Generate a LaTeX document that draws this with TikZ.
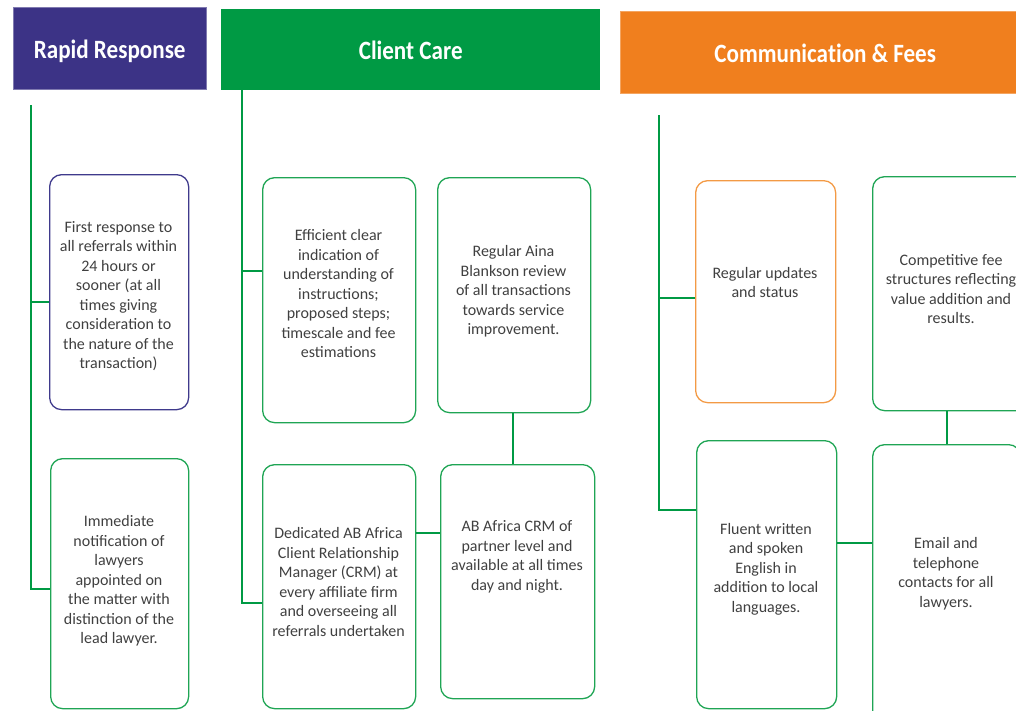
\documentclass[tikz,border=0pt]{standalone}
\usepackage{fontspec}
\setmainfont{Carlito}
\newfontfamily\headfont{Carlito}[FakeStretch=0.875, Ligatures=NoCommon, RawFeature={-calt;-clig}]
\usetikzlibrary{calc}

\definecolor{rrpurple}{HTML}{3C3386}
\definecolor{ccgreen}{HTML}{009A44}
\definecolor{cforange}{HTML}{F07F1E}
\definecolor{boxgreen}{HTML}{1FA554}
\definecolor{boxorange}{HTML}{F39A45}
\definecolor{boxpurple}{HTML}{3F3A8C}
\definecolor{notegray}{HTML}{404040}

\begin{document}
\begin{tikzpicture}[x=1pt, y=-1pt,
	head/.style={anchor=north west, inner sep=0pt, text=white, text height=20pt, text depth=0pt, font=\headfont\fontsize{26.4}{30}\selectfont\bfseries},
	card/.style={draw=boxgreen, line width=1.3pt, rounded corners=12pt, anchor=north west, inner sep=0pt},
	note/.style={align=center, text=notegray, font=\fontsize{16}{19.5}\selectfont},
	link/.style={draw=ccgreen, line width=2pt}]
	\useasboundingbox (0,0) rectangle (1016,710);
	\clip (0,0) rectangle (1016,710);

	% column headers
	\node[head, fill=rrpurple, draw=rrpurple!65!white, minimum width=193pt, minimum height=82pt] (rapid) at (13,7) {Rapid Response};
	\node[head, fill=ccgreen, minimum width=379pt, minimum height=81pt] (care) at (221,9) {Client Care};
	\node[head, fill=cforange, draw=cforange!70!white, minimum width=410pt, minimum height=82pt] (comm) at (620,11) {Communica\kern0pt tion \& Fees};

	% boxes
	\node[card, draw=boxpurple, minimum width=139pt, minimum height=235pt] (resp) at (49,174) {};
	\node[card, minimum width=138pt, minimum height=250pt] (notify) at (50,458) {};
	\node[card, minimum width=153pt, minimum height=245pt] (efficient) at (262,177) {};
	\node[card, minimum width=153pt, minimum height=235pt] (review) at (437,177) {};
	\node[card, minimum width=153pt, minimum height=244pt] (dedicated) at (262,464) {};
	\node[card, minimum width=154pt, minimum height=234pt] (crm) at (440,464) {};
	\node[card, draw=boxorange, minimum width=140pt, minimum height=222pt] (updates) at (695,180) {};
	\node[card, minimum width=158pt, minimum height=234pt] (fees) at (872,176) {};
	\node[card, minimum width=140pt, minimum height=268pt] (fluent) at (696,440) {};
	\node[card, minimum width=148pt, minimum height=280pt] (email) at (872,444) {};

	% texts
	\node[note] (resp-text) at (118.5,296) {First response to\\all referrals within\\24 hours or\\sooner (at all\\times giving\\consideration to\\the nature of the\\transaction)};
	\node[note] (notify-text) at (119,581) {Immediate\\notification of\\lawyers\\appointed on\\the matter with\\distinction of the\\lead lawyer.};
	\node[note] (efficient-text) at (338.5,293.5) {Efficient clear\\indication of\\understanding of\\instructions;\\proposed steps;\\timescale and fee\\estimations};
	\node[note] (review-text) at (513.5,291.5) {Regular Aina\\Blankson review\\of all transactions\\towards service\\improvement.};
	\node[note] (dedicated-text) at (338.5,582) {Dedicated AB Africa\\Client Relationship\\Manager (CRM) at\\every affiliate firm\\and overseeing all\\referrals undertaken};
	\node[note] (crm-text) at (517,557) {AB Africa CRM of\\partner level and\\available at all times\\day and night.};
	\node[note] (updates-text) at (765,282.5) {Regular updates\\and status};
	\node[note] (fees-text) at (951,289) {Competitive fee\\structures reflecting\\value addition and\\results.};
	\node[note] (fluent-text) at (766,569) {Fluent written\\and spoken\\English in\\addition to local\\languages.};
	\node[note] (email-text) at (946,573.5) {Email and\\telephone\\contacts for all\\lawyers.};

	% Rapid Response column
	\coordinate (spine1) at (31,105);
	\coordinate (resp-in) at ([yshift=-10pt]resp.west);
	\draw[link] (spine1) |- ([yshift=-5pt]notify.west);
	\draw[link] (spine1 |- resp-in) -- (resp-in);

	% Client Care column
	\coordinate (spine2) at ([xshift=21pt]care.south west);
	\coordinate (eff-in) at ([yshift=29.5pt]efficient.west);
	\coordinate (crm-in) at ([yshift=54pt]dedicated.east);
	\draw[link] (spine2) |- ([yshift=-16pt]dedicated.west);
	\draw[link] (spine2 |- eff-in) -- (eff-in);
	\draw[link] ([xshift=-1.5pt]review.south) -- ([xshift=-1.5pt]review.south |- crm.north);
	\draw[link] (crm-in) -- (crm-in -| crm.west);

	% Communication & Fees column
	\coordinate (spine3) at (659,115);
	\coordinate (upd-in) at ([yshift=-6pt]updates.west);
	\coordinate (email-in) at ([yshift=32pt]fluent.east);
	\draw[link] (spine3) |- ([yshift=65pt]fluent.west);
	\draw[link] (spine3 |- upd-in) -- (upd-in);
	\draw[link] ([xshift=-5pt]fees.south) -- ([xshift=-5pt]fees.south |- email.north);
	\draw[link] (email-in) -- (email-in -| email.west);
\end{tikzpicture}
\end{document}
